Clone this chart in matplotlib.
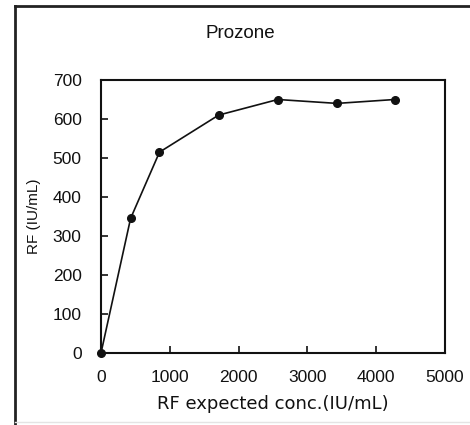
import matplotlib
matplotlib.use("Agg")
import matplotlib.pyplot as plt
from matplotlib.lines import Line2D

# Data
conc_expected = [0, 430, 850, 1710, 2570, 3430, 4270]
rf_measured = [0, 345, 515, 610, 650, 640, 650]

x_ticks = [0, 1000, 2000, 3000, 4000, 5000]
y_ticks = [0, 100, 200, 300, 400, 500, 600, 700]

plt.rcParams["font.family"] = ["Liberation Sans", "DejaVu Sans"]

W, H = 470, 425
fig = plt.figure(figsize=(W / 100, H / 100), dpi=100)
fig.patch.set_facecolor("white")

# axes box in pixels: left 101, right 445, top 80, bottom 353
ax = fig.add_axes([101 / W, 1 - 353 / H, (445 - 101) / W, (353 - 80) / H])

ax.plot(conc_expected, rf_measured, color="#111111", linewidth=1.2,
        marker="o", markersize=5.5, clip_on=False, zorder=3)

ax.set_xlim(0, 5000)
ax.set_ylim(0, 700)
ax.set_xticks(x_ticks)
ax.set_yticks(y_ticks)
ax.tick_params(direction="in", length=5, width=1.2, labelsize=12.5,
               colors="#111111")
ax.tick_params(axis="y", pad=14)
ax.tick_params(axis="x", pad=12)

for spine in ax.spines.values():
    spine.set_linewidth(1.5)
    spine.set_color("#111111")

ax.set_xlabel("RF expected conc.(IU/mL)", fontsize=13, labelpad=7.5,
              color="#111111", family=["DejaVu Sans"])
ax.set_ylabel("RF (IU/mL)", fontsize=11, labelpad=8.5, color="#111111")
fig.text(240 / W, 1 - 33 / H, "Prozone", ha="center", va="center",
         fontsize=13.5, color="#111111")

# outer frame: left and top edges dark, bottom edge faint at the crop
fig.add_artist(Line2D([15 / W, 15 / W], [0, 1 - 6 / H],
                      transform=fig.transFigure, color="#222222", linewidth=2))
fig.add_artist(Line2D([15 / W, 1], [1 - 6 / H, 1 - 6 / H],
                      transform=fig.transFigure, color="#222222", linewidth=2))
fig.add_artist(Line2D([15 / W, 1], [1 - 422 / H, 1 - 422 / H],
                      transform=fig.transFigure, color="#e4e4e4", linewidth=1))

fig.savefig("out.png", dpi=100)
